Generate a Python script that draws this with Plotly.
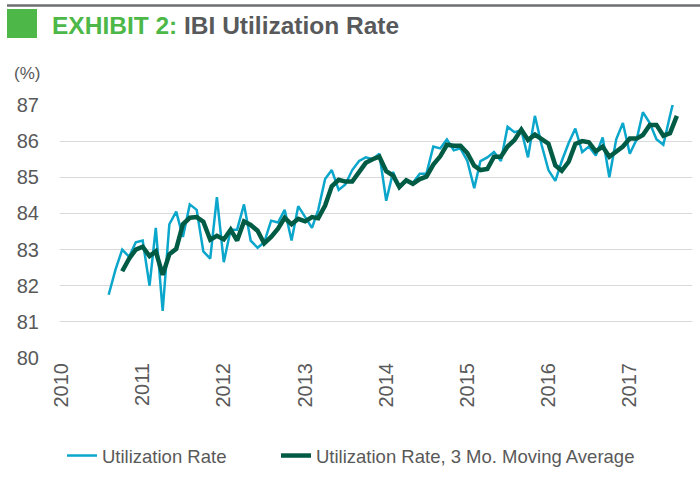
import pandas as pd
import plotly.graph_objects as go

# monthly observations, Aug 2010 - Aug 2017
months = pd.date_range("2010-08-01", "2017-08-01", freq="MS")

utilization = [
    81.75, 82.45, 83.00, 82.80, 83.20, 83.25, 82.00, 83.60, 81.30, 83.70,
    84.05, 83.35, 84.25, 84.10, 82.95, 82.75, 84.45, 82.65, 83.55, 83.55,
    84.25, 83.25, 83.05, 83.20, 83.80, 83.75, 84.10, 83.25, 84.20, 83.90,
    83.60, 84.10, 84.95, 85.20, 84.65, 84.80, 85.20, 85.45, 85.55, 85.50,
    85.65, 84.35, 85.15, 84.70, 84.90, 84.85, 85.10, 85.10, 85.85, 85.80,
    86.05, 85.75, 85.80, 85.45, 84.70, 85.45, 85.55, 85.70, 85.45, 86.40,
    86.25, 86.30, 85.55, 86.70, 85.90, 85.20, 84.90, 85.45, 85.95, 86.35,
    85.70, 85.85, 85.60, 86.10, 85.00, 86.05, 86.50, 85.65, 86.05, 86.80,
    86.50, 86.05, 85.90, 86.70, 87.50,
]

# 3 month moving average, starts Oct 2010
moving_avg = [
    82.40, 82.75, 83.00, 83.08, 82.82, 82.95, 82.30, 82.87, 83.02, 83.70,
    83.88, 83.90, 83.77, 83.27, 83.38, 83.28, 83.55, 83.25, 83.78, 83.68,
    83.52, 83.17, 83.35, 83.58, 83.88, 83.70, 83.85, 83.78, 83.90, 83.87,
    84.22, 84.75, 84.93, 84.88, 84.88, 85.15, 85.40, 85.50, 85.57, 85.17,
    85.05, 84.73, 84.92, 84.82, 84.95, 85.02, 85.35, 85.58, 85.90, 85.87,
    85.87, 85.67, 85.32, 85.20, 85.23, 85.57, 85.57, 85.85, 86.03, 86.32,
    86.03, 86.18, 86.05, 85.93, 85.33, 85.18, 85.43, 85.92, 86.00, 85.97,
    85.72, 85.85, 85.57, 85.72, 85.85, 86.07, 86.07, 86.17, 86.45, 86.45,
    86.15, 86.22, 86.70,
]

W, H = 700, 477
L, R, T, B = 60, 8, 105, 119
FONT = "Liberation Sans, Arial, sans-serif"
GREY = "#595959"


def px_x(x):
    return (x - L) / (W - L - R)


def px_y(y):
    return (H - B - y) / (H - T - B)


fig = go.Figure()
fig.add_trace(go.Scatter(
    x=months, y=utilization, mode="lines", name="Utilization Rate",
    line=dict(color="#0BA6CB", width=2.5), legend="legend",
))
fig.add_trace(go.Scatter(
    x=months[2:], y=moving_avg, mode="lines",
    name="Utilization Rate, 3 Mo. Moving Average",
    line=dict(color="#005B45", width=4.5), legend="legend2",
))

legend_style = dict(
    orientation="h", yanchor="top", xanchor="left", y=px_y(437),
    font=dict(size=18.5, color=GREY), itemwidth=30, bgcolor="rgba(0,0,0,0)",
)

fig.update_layout(
    width=W, height=H,
    margin=dict(l=L, r=R, t=T, b=B, autoexpand=False),
    plot_bgcolor="white", paper_bgcolor="white",
    font=dict(family=FONT, color=GREY, size=18),
    showlegend=True,
    legend=dict(legend_style, x=px_x(62)),
    legend2=dict(legend_style, x=px_x(276)),
)
fig.update_xaxes(
    range=["2009-12-25", "2017-10-08"], automargin=False,
    tick0="2010-01-01", dtick="M12", tickformat="%Y", tickangle=-90,
    showgrid=False, zeroline=False, showline=False, ticks="",
    tickfont=dict(size=20, color=GREY),
)
fig.update_yaxes(
    range=[80, 87], dtick=1, showgrid=True, gridcolor="#D9D9D9", gridwidth=1,
    zeroline=False, showline=False, ticks="", ticklabelstandoff=20,
    automargin=False, tickfont=dict(size=20, color=GREY),
)

# header: rule, green block, title
fig.add_shape(type="line", xref="paper", yref="paper",
              x0=px_x(7), x1=px_x(700), y0=px_y(5.5), y1=px_y(5.5),
              line=dict(color="#6D6E71", width=2.5))
fig.add_shape(type="rect", xref="paper", yref="paper",
              x0=px_x(7), x1=px_x(37), y0=px_y(38), y1=px_y(9),
              fillcolor="#4DB848", line=dict(width=0))
fig.add_annotation(
    xref="paper", yref="paper", x=px_x(50), y=px_y(25),
    xanchor="left", yanchor="middle", showarrow=False,
    text="<b><span style='color:#4DB848'>EXHIBIT 2:</span> IBI Utilization Rate</b>",
    font=dict(size=24.5, color="#58595B", family=FONT),
)
fig.add_annotation(
    xref="paper", yref="paper", x=px_x(12), y=px_y(73),
    xanchor="left", yanchor="middle", showarrow=False,
    text="(%)", font=dict(size=17, color=GREY, family=FONT),
)

# page body margin would push the figure 8px off the corner
fig.write_html("out.html", config={"displayModeBar": False},
               post_script="document.body.style.margin='0px';")
